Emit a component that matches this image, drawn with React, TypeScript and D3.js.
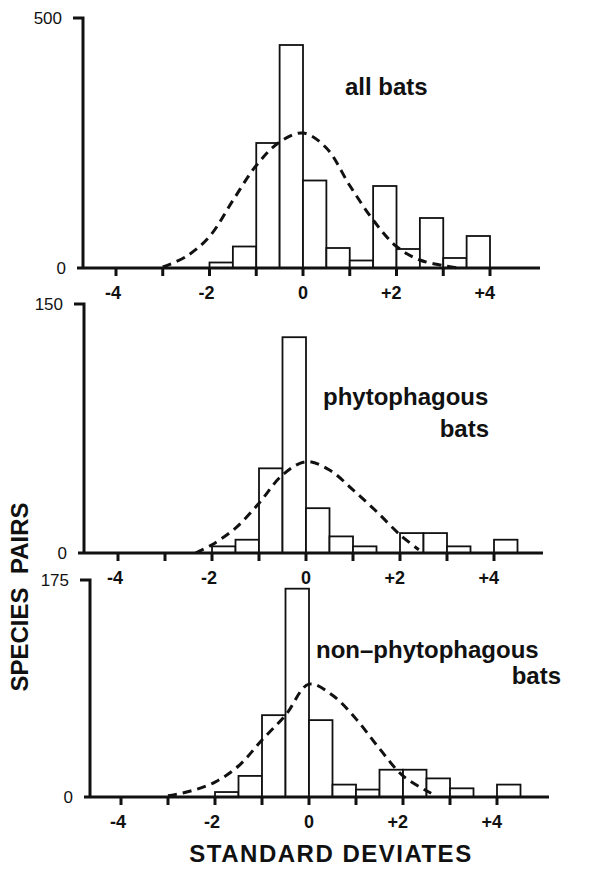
import * as d3 from "d3"

// histogram bins (left edge, width 0.5 SD)
const binStarts = [-2, -1.5, -1, -0.5, 0, 0.5, 1, 1.5, 2, 2.5, 3, 3.5, 4]
const allBats = [11, 43, 250, 446, 175, 40, 15, 164, 38, 100, 20, 64, 0]
const phytoBats = [4, 8, 51, 130, 27, 10, 4, 0, 12, 12, 4, 0, 8]
const nonPhytoBats = [4, 17, 66, 168, 62, 10, 6, 22, 22, 15, 7, 0, 10]

// expected normal curves
const allCurveX = [-3, -2.5, -2, -1.5, -1, -0.5, 0, 0.5, 1, 1.5, 2, 2.5, 3, 3.3]
const allCurveY = [2, 23, 63, 135, 205, 252, 270, 240, 165, 96, 43, 16, 5, 0]
const phytoCurveX = [-2.35, -2, -1.5, -1, -0.5, 0, 0.5, 1, 1.5, 2, 2.4]
const phytoCurveY = [0, 5, 15, 30, 47, 55, 50, 38, 25, 11, 2]
const nonPhytoCurveX = [-3, -2.5, -2, -1.5, -1, -0.5, 0, 0.5, 1, 1.5, 2, 2.6]
const nonPhytoCurveY = [1, 5, 12, 25, 46, 66, 91, 82, 63, 39, 17, 3]

const xTicks = [-4, -3, -2, -1, 0, 1, 2, 3, 4]
const xTickLabels = ["-4", "", "-2", "", "0", "", "+2", "", "+4"]
const yMaxes = [500, 150, 175]
const panelTitles = [["all bats"], ["phytophagous", "bats"], ["non\u2013phytophagous", "bats"]]

const FONT = "'Liberation Sans', Arial, sans-serif"
const INK = "#111"

interface PanelLayout {
  axisX: number
  top: number
  base: number
  xm4: number
  xp4: number
  right: number
  titleX: number
  titleY: number
  bats?: { x: number; y: number }
}

const layouts: PanelLayout[] = [
  { axisX: 83, top: 18, base: 268, xm4: 116, xp4: 490, right: 540, titleX: 345, titleY: 95 },
  { axisX: 84, top: 304, base: 553, xm4: 118, xp4: 494, right: 543, titleX: 323, titleY: 405, bats: { x: 489, y: 437 } },
  { axisX: 90, top: 580, base: 797, xm4: 121, xp4: 497, right: 549, titleX: 316, titleY: 658, bats: { x: 561, y: 684 } },
]

const series = [allBats, phytoBats, nonPhytoBats]
const curvesX = [allCurveX, phytoCurveX, nonPhytoCurveX]
const curvesY = [allCurveY, phytoCurveY, nonPhytoCurveY]

function Panel({ idx }: { idx: number }) {
  const L = layouts[idx]
  const values = series[idx]
  const x = d3.scaleLinear().domain([-4, 4]).range([L.xm4, L.xp4])
  const y = d3.scaleLinear().domain([0, yMaxes[idx]]).range([L.base, L.top])
  const pts = curvesX[idx].map((cx, i) => [cx, curvesY[idx][i]] as [number, number])
  const line = d3
    .line<[number, number]>()
    .x((d) => x(d[0]))
    .y((d) => y(d[1]))
    .curve(d3.curveCatmullRom.alpha(0.5))

  return (
    <g>
      {/* bars */}
      {binStarts.map((s, i) =>
        values[i] > 0 ? (
          <rect
            key={i}
            x={x(s)}
            y={y(values[i])}
            width={x(s + 0.5) - x(s)}
            height={L.base - y(values[i])}
            fill="white"
            stroke={INK}
            strokeWidth={1.8}
          />
        ) : null
      )}
      {/* expected curve */}
      <path d={line(pts) || ""} fill="none" stroke={INK} strokeWidth={3} strokeDasharray="9 6" />
      {/* axes */}
      <path
        d={`M${L.axisX - 10},${L.top} H${L.axisX} V${L.base} M${L.axisX - 6},${L.base} H${L.right}`}
        fill="none"
        stroke={INK}
        strokeWidth={3}
      />
      {xTicks.map((t) => (
        <line key={t} x1={x(t)} x2={x(t)} y1={L.base} y2={L.base + 8} stroke={INK} strokeWidth={3} />
      ))}
      {xTicks.map((t, i) =>
        xTickLabels[i] ? (
          <text
            key={"l" + t}
            x={t === 0 ? x(t) : x(t) + 5}
            y={L.base + 31}
            textAnchor={t === 0 ? "middle" : "end"}
            fontFamily={FONT}
            fontWeight="bold"
            fontSize={18}
            fill={INK}
          >
            {xTickLabels[i]}
          </text>
        ) : null
      )}
      <text x={L.axisX - 21} y={L.top + 6} textAnchor="end" fontFamily={FONT} fontSize={17} fill={INK}>
        {yMaxes[idx]}
      </text>
      <text x={L.axisX - 17} y={L.base + 6} textAnchor="end" fontFamily={FONT} fontSize={17} fill={INK}>
        0
      </text>
      {/* panel title */}
      <text x={L.titleX} y={L.titleY} fontFamily={FONT} fontWeight="bold" fontSize={24} fill={INK}>
        {panelTitles[idx][0]}
      </text>
      {L.bats && (
        <text x={L.bats.x} y={L.bats.y} textAnchor="end" fontFamily={FONT} fontWeight="bold" fontSize={24} fill={INK}>
          {panelTitles[idx][1]}
        </text>
      )}
    </g>
  )
}

export default function App() {
  return (
    <svg
      width={594}
      height={874}
      style={{ position: "absolute", left: 0, top: 0, background: "white", display: "block" }}
    >
      <rect width={594} height={874} fill="white" />
      {[0, 1, 2].map((i) => (
        <Panel key={i} idx={i} />
      ))}
      <text
        transform="translate(28,597) rotate(-90)"
        textAnchor="middle"
        fontFamily={FONT}
        fontWeight="bold"
        fontSize={24}
        fill={INK}
      >
        SPECIES{"\u00a0\u00a0"}PAIRS
      </text>
      <text
        x={331}
        y={862}
        textAnchor="middle"
        fontFamily={FONT}
        fontWeight="bold"
        fontSize={24}
        letterSpacing={1.5}
        fill={INK}
      >
        STANDARD DEVIATES
      </text>
    </svg>
  )
}
